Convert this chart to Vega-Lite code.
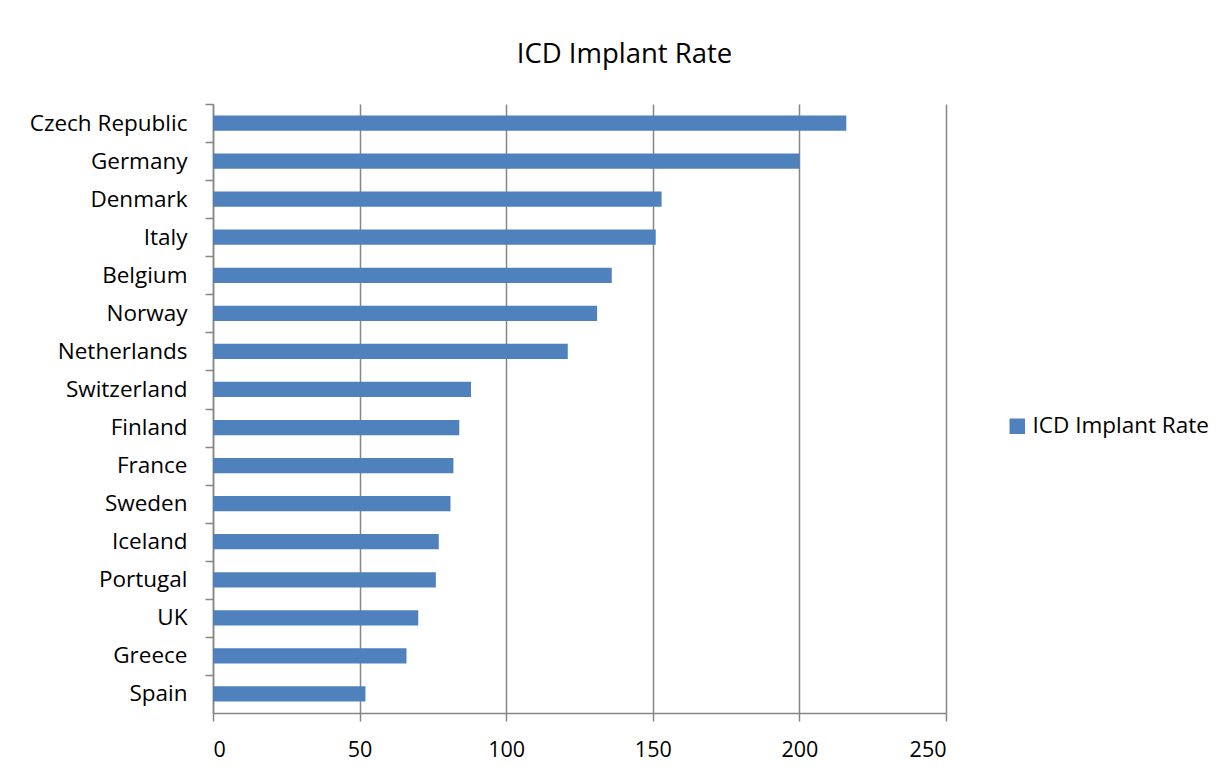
{
  "$schema": "https://vega.github.io/schema/vega-lite/v6.json",
  "autosize": {"type": "none"},
  "width": 733,
  "height": 609,
  "padding": {"left": 213, "top": 104, "right": 283, "bottom": 61},
  "background": "white",
  "title": {
    "text": "ICD Implant Rate",
    "font": "Open Sans",
    "fontSize": 27.5,
    "fontWeight": "normal",
    "color": "black",
    "anchor": "middle",
    "frame": "group",
    "dx": 45,
    "offset": 35
  },
  "data": {
    "values": [
      {"country": "Czech Republic", "rate": 216, "series": "ICD Implant Rate"},
      {"country": "Germany", "rate": 200, "series": "ICD Implant Rate"},
      {"country": "Denmark", "rate": 153, "series": "ICD Implant Rate"},
      {"country": "Italy", "rate": 151, "series": "ICD Implant Rate"},
      {"country": "Belgium", "rate": 136, "series": "ICD Implant Rate"},
      {"country": "Norway", "rate": 131, "series": "ICD Implant Rate"},
      {"country": "Netherlands", "rate": 121, "series": "ICD Implant Rate"},
      {"country": "Switzerland", "rate": 88, "series": "ICD Implant Rate"},
      {"country": "Finland", "rate": 84, "series": "ICD Implant Rate"},
      {"country": "France", "rate": 82, "series": "ICD Implant Rate"},
      {"country": "Sweden", "rate": 81, "series": "ICD Implant Rate"},
      {"country": "Iceland", "rate": 77, "series": "ICD Implant Rate"},
      {"country": "Portugal", "rate": 76, "series": "ICD Implant Rate"},
      {"country": "UK", "rate": 70, "series": "ICD Implant Rate"},
      {"country": "Greece", "rate": 66, "series": "ICD Implant Rate"},
      {"country": "Spain", "rate": 52, "series": "ICD Implant Rate"}
    ]
  },
  "mark": {"type": "bar"},
  "encoding": {
    "y": {
      "field": "country",
      "type": "nominal",
      "sort": null,
      "scale": {"paddingInner": 0.6, "paddingOuter": 0.3},
      "axis": {
        "title": null,
        "labelFont": "Open Sans",
        "labelFontSize": 22.5,
        "labelColor": "black",
        "labelLimit": 300,
        "labelPadding": 18,
        "labelOffset": 19,
        "tickSize": 8,
        "tickOffset": -19,
        "tickColor": "#868686",
        "tickWidth": 1.5,
        "domainColor": "#868686",
        "domainWidth": 1.5,
        "grid": false
      }
    },
    "x": {
      "field": "rate",
      "type": "quantitative",
      "scale": {"domain": [0, 250], "nice": false},
      "axis": {
        "title": null,
        "values": [0, 50, 100, 150, 200, 250],
        "labelFont": "Open Sans",
        "labelFontSize": 21.5,
        "labelColor": "black",
        "labelPadding": 18,
        "tickSize": 8,
        "tickColor": "#868686",
        "tickWidth": 1.5,
        "domainColor": "#868686",
        "domainWidth": 1.5,
        "grid": true,
        "gridColor": "#868686",
        "gridWidth": 1.5
      }
    },
    "color": {
      "field": "series",
      "type": "nominal",
      "scale": {"range": ["#4f81bd"]},
      "legend": {
        "title": null,
        "orient": "none",
        "legendX": 793,
        "legendY": 311,
        "symbolType": "square",
        "symbolSize": 240,
        "symbolStrokeWidth": 0,
        "labelFont": "Open Sans",
        "labelFontSize": 22.5,
        "labelColor": "black",
        "labelLimit": 300,
        "labelOffset": 4
      }
    }
  },
  "config": {
    "view": {"stroke": null}
  }
}
